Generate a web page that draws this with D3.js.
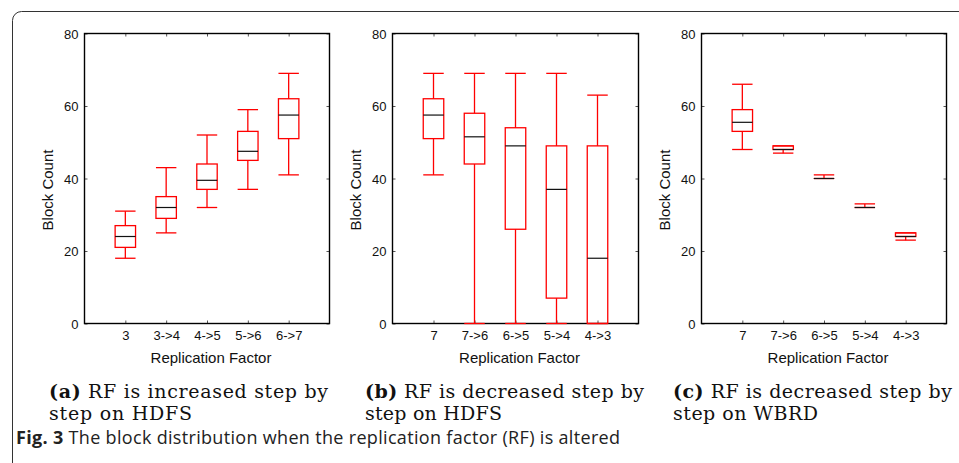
<!DOCTYPE html>
<html>
<head>
<meta charset="utf-8">
<script src="https://cdn.jsdelivr.net/npm/d3@7"></script>
<style>
  body { margin: 0; background: #fff; }
  svg { display: block; }
</style>
</head>
<body>
<div id="container"></div>
<script>
var width = 959;
var height = 463;

// categories for each sub plot
var catsA = ["3", "3->4", "4->5", "5->6", "6->7"];
var catsB = ["7", "7->6", "6->5", "5->4", "4->3"];
var catsC = ["7", "7->6", "6->5", "5->4", "4->3"];

// box stats: lower whisker, q1, median, q3, upper whisker
var lowA = [18, 25, 32, 37, 41];
var q1A  = [21, 29, 37, 45, 51];
var medA = [24, 32, 39.5, 47.5, 57.5];
var q3A  = [27, 35, 44, 53, 62];
var highA = [31, 43, 52, 59, 69];

var lowB = [41, 0, 0, 0, 0];
var q1B  = [51, 44, 26, 7, 0];
var medB = [57.5, 51.5, 49, 37, 18];
var q3B  = [62, 58, 54, 49, 49];
var highB = [69, 69, 69, 69, 63];

var lowC = [48, 47, 40, 32, 23];
var q1C  = [53, 48, 40, 32, 24];
var medC = [55.5, 48, 40, 32, 24];
var q3C  = [59, 49, 40, 32, 25];
var highC = [66, 49, 41, 33, 25];

var yTicks = [0, 20, 40, 60, 80];

var captions = [
  ["(a)", " RF is increased step by", "step on HDFS"],
  ["(b)", " RF is decreased step by", "step on HDFS"],
  ["(c)", " RF is decreased step by", "step on WBRD"]
];

var panels = [
  {cats: catsA, low: lowA, q1: q1A, med: medA, q3: q3A, high: highA, left: 84.5, right: 329.5, cap: captions[0], capx: 49, w2: 143},
  {cats: catsB, low: lowB, q1: q1B, med: medB, q3: q3B, high: highB, left: 392.5, right: 638.5, cap: captions[1], capx: 365, w2: 137},
  {cats: catsC, low: lowC, q1: q1C, med: medC, q3: q3C, high: highC, left: 701.5, right: 946.5, cap: captions[2], capx: 673, w2: 145}
];
var plotTop = 33.5, plotBottom = 323.5;

var svg = d3.select('div#container')
  .append('svg')
  .attr('width', width)
  .attr('height', height);

// outer frame, cut off at right and bottom
svg.append('rect')
  .attr('x', 12.5).attr('y', 11.5)
  .attr('width', 1100).attr('height', 600)
  .attr('rx', 9)
  .attr('fill', 'none')
  .attr('stroke', '#333')
  .attr('stroke-width', 1);

panels.forEach(function(p){
  var x = d3.scaleLinear().domain([0, 6]).range([p.left, p.right]);
  var y = d3.scaleLinear().domain([0, 80]).range([plotBottom, plotTop]);
  var bw = x(0.25) - x(0);
  var idx = d3.range(p.cats.length);

  var g = svg.append('g');

  // axes box, ticks inwards on all sides
  var xa = d3.axisBottom(x).tickValues([1,2,3,4,5]).tickFormat(function(d){return p.cats[d-1];})
    .tickSizeInner(-3).tickSizeOuter(0).tickPadding(10);
  var gx = g.append('g').attr('transform', 'translate(0,' + plotBottom + ')').call(xa);
  var gxt = g.append('g').attr('transform', 'translate(0,' + plotTop + ')')
    .call(d3.axisTop(x).tickValues([1,2,3,4,5]).tickFormat('').tickSizeInner(-3).tickSizeOuter(0));
  var gy = g.append('g').attr('transform', 'translate(' + p.left + ',0)')
    .call(d3.axisLeft(y).tickValues(yTicks).tickSizeInner(-3).tickSizeOuter(0).tickPadding(6));
  var gyr = g.append('g').attr('transform', 'translate(' + p.right + ',0)')
    .call(d3.axisRight(y).tickValues(yTicks).tickFormat('').tickSizeInner(-3).tickSizeOuter(0));

  [gx, gxt, gy, gyr].forEach(function(a){
    a.select('.domain').remove();
    a.selectAll('line').attr('stroke', '#555');
    a.selectAll('text').attr('fill', '#111')
      .style('font-family', 'Liberation Sans, Arial, sans-serif').style('font-size', '13px');
  });
  gx.selectAll('text').attr('dy', '0.5em');
  gy.selectAll('text').attr('dy', '0.36em');

  g.append('rect')
    .attr('x', p.left).attr('y', plotTop)
    .attr('width', p.right - p.left).attr('height', plotBottom - plotTop)
    .attr('fill', 'none').attr('stroke', '#000').attr('stroke-width', 1.4);

  // whiskers
  g.selectAll('line.wu').data(idx).enter().append('line')
    .attr('x1', function(i){return x(i+1);}).attr('x2', function(i){return x(i+1);})
    .attr('y1', function(i){return y(p.q3[i]);}).attr('y2', function(i){return y(p.high[i]);})
    .attr('stroke', 'red').attr('stroke-width', 1.3);
  g.selectAll('line.wl').data(idx).enter().append('line')
    .attr('x1', function(i){return x(i+1);}).attr('x2', function(i){return x(i+1);})
    .attr('y1', function(i){return y(p.q1[i]);}).attr('y2', function(i){return y(p.low[i]);})
    .attr('stroke', 'red').attr('stroke-width', 1.3);
  // caps
  g.selectAll('line.cu').data(idx).enter().append('line')
    .attr('x1', function(i){return x(i+1) - bw;}).attr('x2', function(i){return x(i+1) + bw;})
    .attr('y1', function(i){return y(p.high[i]);}).attr('y2', function(i){return y(p.high[i]);})
    .attr('stroke', 'red').attr('stroke-width', 1.3);
  g.selectAll('line.cl').data(idx).enter().append('line')
    .attr('x1', function(i){return x(i+1) - bw;}).attr('x2', function(i){return x(i+1) + bw;})
    .attr('y1', function(i){return y(p.low[i]);}).attr('y2', function(i){return y(p.low[i]);})
    .attr('stroke', 'red').attr('stroke-width', 1.3);
  // boxes
  g.selectAll('rect.box').data(idx).enter().append('rect')
    .attr('x', function(i){return x(i+1) - bw;})
    .attr('y', function(i){return y(p.q3[i]);})
    .attr('width', 2*bw)
    .attr('height', function(i){return y(p.q1[i]) - y(p.q3[i]);})
    .attr('fill', 'none').attr('stroke', 'red').attr('stroke-width', 1.3);
  // medians
  g.selectAll('line.med').data(idx).enter().append('line')
    .attr('x1', function(i){return x(i+1) - bw;}).attr('x2', function(i){return x(i+1) + bw;})
    .attr('y1', function(i){return y(p.med[i]);}).attr('y2', function(i){return y(p.med[i]);})
    .attr('stroke', '#111').attr('stroke-width', 1.2);

  // axis titles
  g.append('text')
    .attr('x', (p.left + p.right)/2 + 4).attr('y', 363)
    .attr('text-anchor', 'middle')
    .style('font-family', 'Liberation Sans, Arial, sans-serif').style('font-size', '15px')
    .attr('fill', '#111')
    .text('Replication Factor');
  g.append('text')
    .attr('transform', 'translate(' + (p.left - 32) + ',190) rotate(-90)')
    .attr('text-anchor', 'middle')
    .style('font-family', 'Liberation Sans, Arial, sans-serif').style('font-size', '15px')
    .attr('fill', '#111')
    .text('Block Count');

  // sub captions
  var t1 = svg.append('text')
    .attr('x', p.capx).attr('y', 397.5)
    .attr('textLength', 279).attr('lengthAdjust', 'spacing')
    .style('font-family', 'DejaVu Serif, serif').style('font-size', '19px')
    .attr('fill', '#111');
  t1.append('tspan').style('font-weight', 'bold').text(p.cap[0]);
  t1.append('tspan').text(p.cap[1]);
  svg.append('text')
    .attr('x', p.capx).attr('y', 419.5)
    .attr('textLength', p.w2).attr('lengthAdjust', 'spacing')
    .style('font-family', 'DejaVu Serif, serif').style('font-size', '19px')
    .attr('fill', '#111')
    .text(p.cap[2]);
});

// figure caption
var fc = svg.append('text')
  .attr('x', 16).attr('y', 444)
  .attr('textLength', 604).attr('lengthAdjust', 'spacing')
  .style('font-family', 'Open Sans, sans-serif').style('font-size', '18px')
  .attr('fill', '#222');
fc.append('tspan').style('font-weight', 'bold').text('Fig. 3');
fc.append('tspan').text('  The block distribution when the replication factor (RF) is altered');
</script>
</body>
</html>
